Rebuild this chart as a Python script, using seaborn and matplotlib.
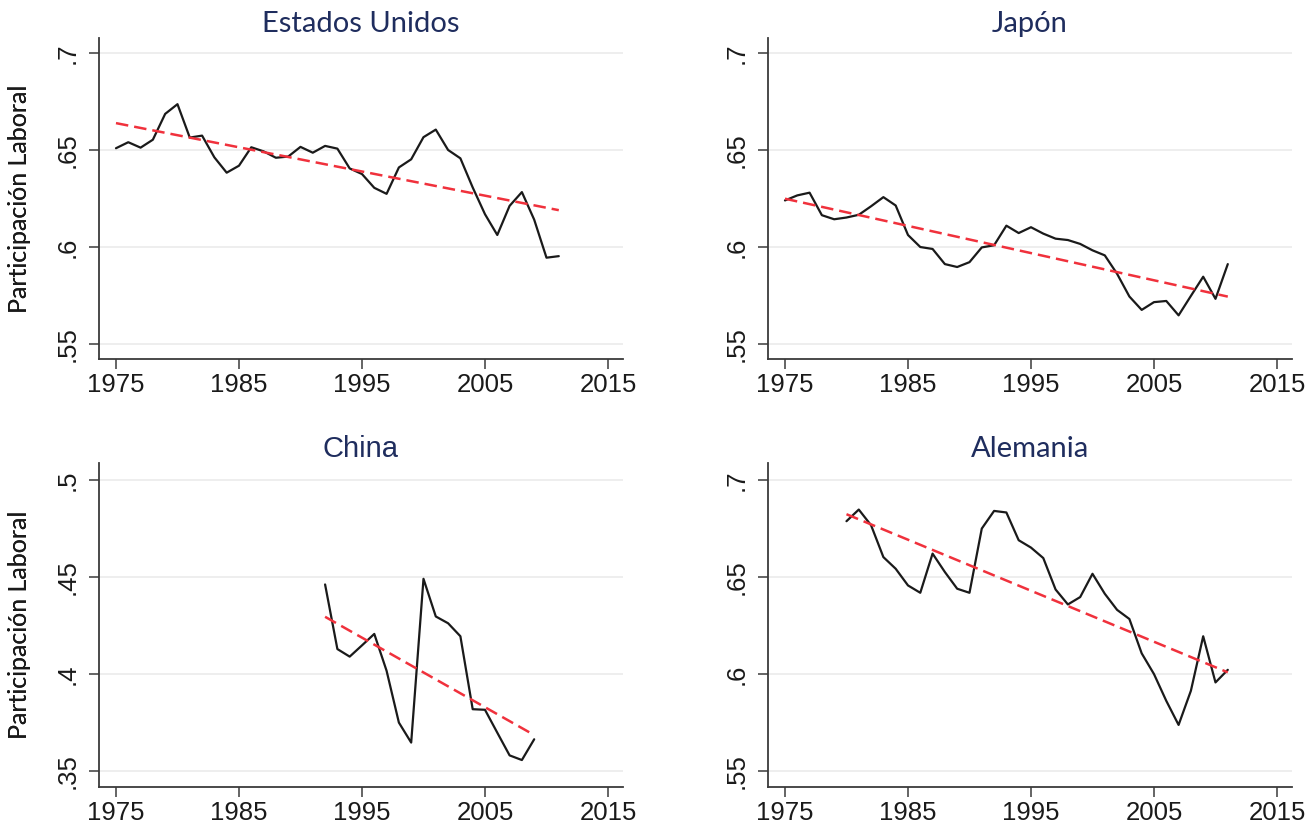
import numpy as np
import pandas as pd
import matplotlib
matplotlib.use("Agg")
import matplotlib.pyplot as plt
import seaborn as sns
from matplotlib.ticker import FuncFormatter

# Participación laboral por país
years_us = list(range(1975, 2012))
us = [0.6509, 0.6540, 0.6512, 0.6553, 0.6686, 0.6736, 0.6564, 0.6574, 0.6462, 0.6383,
      0.6419, 0.6514, 0.6493, 0.6460, 0.6466, 0.6516, 0.6486, 0.6521, 0.6507, 0.6405,
      0.6376, 0.6305, 0.6274, 0.6410, 0.6452, 0.6566, 0.6605, 0.6500, 0.6457, 0.6307,
      0.6169, 0.6062, 0.6212, 0.6283, 0.6141, 0.5945, 0.5953]

years_jp = list(range(1975, 2012))
jp = [0.6240, 0.6266, 0.6280, 0.6164, 0.6143, 0.6152, 0.6166, 0.6210, 0.6257, 0.6214,
      0.6062, 0.6000, 0.5990, 0.5912, 0.5897, 0.5922, 0.5998, 0.6009, 0.6110, 0.6072,
      0.6102, 0.6069, 0.6043, 0.6036, 0.6016, 0.5983, 0.5957, 0.5862, 0.5745, 0.5676,
      0.5716, 0.5722, 0.5648, 0.5748, 0.5847, 0.5733, 0.5912]

years_cn = list(range(1992, 2010))
cn = [0.4462, 0.4129, 0.4090, 0.4148, 0.4207, 0.4017, 0.3750, 0.3647, 0.4491, 0.4297,
      0.4262, 0.4195, 0.3819, 0.3816, 0.3698, 0.3581, 0.3557, 0.3664]

years_de = list(range(1980, 2012))
de = [0.6788, 0.6848, 0.6767, 0.6603, 0.6543, 0.6457, 0.6419, 0.6621, 0.6526, 0.6440,
      0.6419, 0.6750, 0.6841, 0.6833, 0.6690, 0.6652, 0.6598, 0.6436, 0.6359, 0.6397,
      0.6517, 0.6414, 0.6331, 0.6284, 0.6107, 0.6000, 0.5862, 0.5738, 0.5914, 0.6195,
      0.5957, 0.6022]

titles = ["Estados Unidos", "Japón", "China", "Alemania"]
yticks_hi = [0.55, 0.6, 0.65, 0.7]
yticks_cn = [0.35, 0.4, 0.45, 0.5]
xticks = [1975, 1985, 1995, 2005, 2015]

sns.set_theme(style="white")
plt.rcParams["font.family"] = ["Liberation Sans", "DejaVu Sans"]

W, H = 1315, 825
fig = plt.figure(figsize=(W / 100, H / 100), dpi=100)

# (left, top, right, bottom) en pixeles
boxes = [(99, 38, 623, 359), (768, 38, 1292, 359),
         (99, 463, 623, 787), (768, 463, 1292, 787)]
series = [(years_us, us), (years_jp, jp), (years_cn, cn), (years_de, de)]
ylims = [(0.5423, 0.7077), (0.5423, 0.7077), (0.3418, 0.5088), (0.5418, 0.7088)]
yticks_all = [yticks_hi, yticks_hi, yticks_cn, yticks_hi]
title_col = "#1f2d5e"


def fmt(v, pos):
    s = f"{v:.2f}".rstrip("0").rstrip(".")
    return s[1:] if s.startswith("0") else s


for i, (box, (yrs, vals)) in enumerate(zip(boxes, series)):
    l, t, r, b = box
    ax = fig.add_axes([l / W, 1 - b / H, (r - l) / W, (b - t) / H])
    df = pd.DataFrame({"year": yrs, "lfp": vals})

    sns.lineplot(data=df, x="year", y="lfp", color="#1a1a1a", lw=1.6, ax=ax)
    sns.regplot(data=df, x="year", y="lfp", scatter=False, ci=None, ax=ax,
                line_kws=dict(color="#f0313c", lw=1.8, ls=(0, (5, 2.4))))

    ax.set_xlim(1973.62, 2016.22)
    ax.set_ylim(*ylims[i])
    ax.set_xticks(xticks)
    ax.set_yticks(yticks_all[i])
    ax.yaxis.set_major_formatter(FuncFormatter(fmt))
    ax.grid(axis="y", color="#eeeeee", lw=1.4)
    ax.grid(axis="x", visible=False)
    ax.set_axisbelow(True)

    sns.despine(ax=ax)
    for s in ["left", "bottom"]:
        ax.spines[s].set_color("#3a3a3a")
        ax.spines[s].set_linewidth(1.3)

    ax.tick_params(axis="both", direction="out", length=7, width=1.1,
                   color="#3a3a3a", labelsize=18.5, labelcolor="#1a1a1a",
                   bottom=True, left=True)
    ax.tick_params(axis="x", pad=3)
    ax.tick_params(axis="y", pad=7)
    for lab in ax.get_yticklabels():
        lab.set_rotation(90)
        lab.set_va("center")

    ax.set_xlabel("")
    ax.set_ylabel("Participación Laboral", fontsize=18, color="#1a1a1a",
                  family=["Lato", "DejaVu Sans"])
    ax.yaxis.set_label_coords((31 - l) / (r - l), 0.5)

    tfam = ["Liberation Sans"] if titles[i] == "China" else ["Lato", "DejaVu Sans"]
    tsize = 21 if titles[i] == "China" else 21
    ax.set_title(titles[i], fontsize=tsize, color=title_col, family=tfam, pad=4.5)

fig.savefig("out.png", dpi=100, facecolor="white")
